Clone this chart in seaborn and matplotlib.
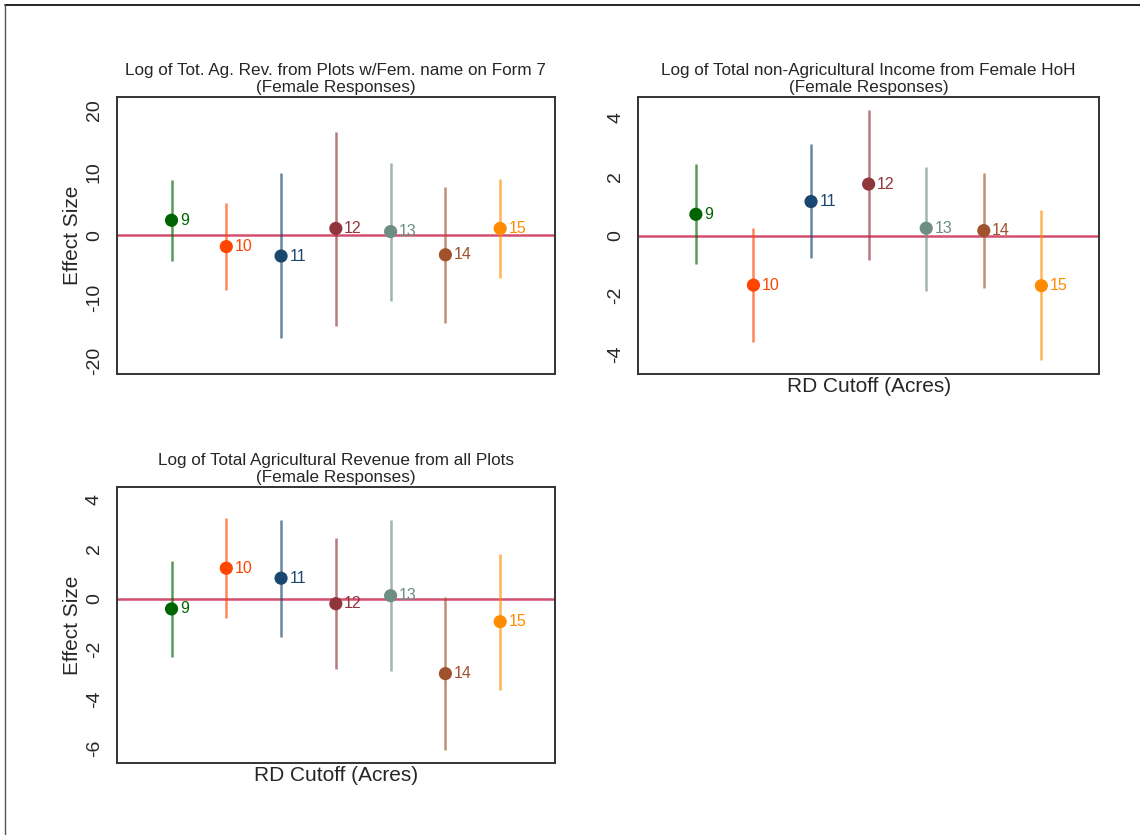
"""
RD cutoff robustness: effect sizes by cutoff for female responses.
"""

# %% Imports
import numpy as np
import pandas as pd
import seaborn as sns
from matplotlib import pyplot as plt
from matplotlib.lines import Line2D

# %% Data
CUTOFFS = [9, 10, 11, 12, 13, 14, 15]
CUTOFF_COLORS = ["#006400", "#ff4500", "#1a476f", "#90353b", "#6e8e84", "#a0522d", "#ff8c00"]

# Log of Tot. Ag. Rev. from Plots w/Fem. name on Form 7
EST_FORM7 = [2.4, -1.8, -3.3, 1.1, 0.6, -3.1, 1.1]
LO_FORM7 = [-4.1, -8.7, -16.4, -14.5, -10.5, -14.0, -6.8]
HI_FORM7 = [8.8, 5.1, 9.9, 16.5, 11.5, 7.7, 9.0]

# Log of Total non-Agricultural Income from Female HoH
EST_NONAG = [0.73, -1.66, 1.16, 1.75, 0.26, 0.18, -1.68]
LO_NONAG = [-0.96, -3.59, -0.75, -0.80, -1.86, -1.77, -4.19]
HI_NONAG = [2.42, 0.28, 3.10, 4.26, 2.34, 2.14, 0.86]

# Log of Total Agricultural Revenue from all Plots
EST_ALLAG = [-0.40, 1.23, 0.83, -0.19, 0.13, -2.99, -0.91]
LO_ALLAG = [-2.31, -0.77, -1.54, -2.80, -2.88, -6.05, -3.64]
HI_ALLAG = [1.50, 3.23, 3.16, 2.43, 3.16, 0.09, 1.80]

FONT = ["Liberation Sans", "DejaVu Sans"]


# %% Plotting Functions


def plot_cutoff_panel(ax, est, lo, hi, title, yticks, ylim, ylabel=True, xlabel=True):
    df = pd.DataFrame({"cutoff": CUTOFFS, "est": est, "lo": lo, "hi": hi})
    ax.axhline(0, color="#c10534", lw=1.8, alpha=0.7, zorder=1)
    for row, color in zip(df.itertuples(), CUTOFF_COLORS):
        ax.vlines(row.cutoff, row.lo, row.hi, color=color, lw=1.8, alpha=0.65, zorder=2)
    sns.scatterplot(
        df,
        x="cutoff",
        y="est",
        hue="cutoff",
        palette=CUTOFF_COLORS,
        s=90,
        linewidth=0,
        legend=False,
        zorder=3,
        ax=ax,
    )
    for row, color in zip(df.itertuples(), CUTOFF_COLORS):
        ax.annotate(
            str(row.cutoff),
            (row.cutoff, row.est),
            xytext=(6, 0),
            textcoords="offset points",
            va="center",
            ha="left",
            color=color,
            fontsize=11.5,
            family=FONT,
            zorder=4,
        )
    ax.set_xlim(8, 16)
    ax.set_ylim(*ylim)
    ax.set_xticks([])
    ax.set_yticks(yticks)
    ax.set_yticklabels([str(t) for t in yticks], rotation=90, va="center", family=FONT, fontsize=14)
    ax.tick_params(axis="y", direction="out", length=7, width=1.2, color="#555555", pad=3)
    for spine in ax.spines.values():
        spine.set_linewidth(1.4)
        spine.set_color("#333333")
    ax.set_title(title, fontsize=12.3, family=FONT, pad=4, linespacing=1.15)
    ax.set_ylabel("Effect Size" if ylabel else "", fontsize=15, family=FONT, labelpad=3)
    ax.set_xlabel("RD Cutoff (Acres)" if xlabel else "", fontsize=15, family=FONT, labelpad=2)


# %% Figure
sns.set_style("white")
fig = plt.figure(figsize=(11.4, 8.35), dpi=100)

ax1 = fig.add_axes([0.1024, 0.5521, 0.3844, 0.3314])
ax2 = fig.add_axes([0.5599, 0.5521, 0.4041, 0.3314])
ax3 = fig.add_axes([0.1024, 0.0859, 0.3844, 0.3305])

plot_cutoff_panel(
    ax1,
    EST_FORM7,
    LO_FORM7,
    HI_FORM7,
    "Log of Tot. Ag. Rev. from Plots w/Fem. name on Form 7\n(Female Responses)",
    [-20, -10, 0, 10, 20],
    (-22.1, 22.0),
    ylabel=True,
    xlabel=False,
)
plot_cutoff_panel(
    ax2,
    EST_NONAG,
    LO_NONAG,
    HI_NONAG,
    "Log of Total non-Agricultural Income from Female HoH\n(Female Responses)",
    [-4, -2, 0, 2, 4],
    (-4.66, 4.68),
    ylabel=False,
    xlabel=True,
)
plot_cutoff_panel(
    ax3,
    EST_ALLAG,
    LO_ALLAG,
    HI_ALLAG,
    "Log of Total Agricultural Revenue from all Plots\n(Female Responses)",
    [-6, -4, -2, 0, 2, 4],
    (-6.58, 4.47),
    ylabel=True,
    xlabel=True,
)

# outer frame (top and left edges)
fig.add_artist(Line2D([0.004, 1.0], [0.994, 0.994], color="black", lw=1.2, transform=fig.transFigure))
fig.add_artist(Line2D([0.004, 0.004], [0.0, 0.994], color="#555555", lw=1.0, transform=fig.transFigure))

fig.savefig("out.png", dpi=100)
